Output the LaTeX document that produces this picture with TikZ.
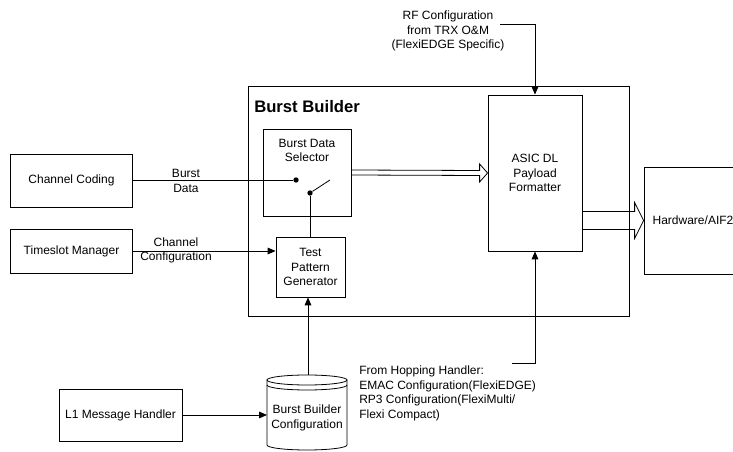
\documentclass[tikz,border=0pt]{standalone}
\usepackage{fontspec}
\setmainfont{Liberation Sans}
\usetikzlibrary{arrows.meta,calc,positioning}
\newcommand{\lblfont}{\fontsize{9}{10.8}\selectfont}
\newcommand{\titlefont}{\fontsize{12.5}{14}\selectfont\bfseries}

\begin{document}
\begin{tikzpicture}[
    x=0.75pt, y=-0.75pt,
    >={Triangle[length=6pt, width=5pt]},
    blk/.style={draw, line width=0.6pt, align=center, font=\lblfont, inner sep=2pt},
    lbl/.style={align=center, font=\lblfont, inner sep=0pt},
    wire/.style={line width=0.6pt},
    dot/.style={circle, fill, inner sep=0pt, minimum size=4pt}
]

% Page
\useasboundingbox (0,0) rectangle (733,452);
\fill[white] (0,0) rectangle (733,452);

% Outer block
\node[blk, minimum width=285.75pt, minimum height=172.5pt] (bb) at (438.5,201) {};
\node[font=\titlefont, anchor=west, inner sep=0pt] (bbtitle) at (254,107) {Burst Builder};

% Sources on the left
\node[blk, minimum width=91.5pt, minimum height=39.75pt] (cc) at (71.5,180.5) {Channel Coding};
\node[blk, minimum width=91.5pt, minimum height=33pt] (tsm) at (71.5,251) {Timeslot Manager};
\node[blk, minimum width=92.25pt, minimum height=39pt] (l1) at (120.5,415) {L1 Message Handler};

% Inner blocks
\node[blk, minimum width=66pt, minimum height=65.25pt] (bds) at (307,172.5) {};
\node[lbl] (bdstext) at (307,150.5) {Burst Data\\Selector};
\node[blk, minimum width=51.75pt, minimum height=45pt] (tpg) at (310.5,267) {Test\\Pattern\\Generator};
\node[blk, minimum width=70.5pt, minimum height=117pt] (asic) at (535,173) {ASIC DL\\Payload\\Formatter};

% Hardware (runs off the page)
\node[blk, minimum width=73.5pt, minimum height=80.25pt] (hw) at (693,220.5) {Hardware/AIF2};

% Configuration store
\draw[wire] (267,380) -- (267,445) arc[start angle=180, end angle=360, x radius=30pt, y radius=3.75pt] -- (347,380);
\draw[wire] (307,380) ellipse[x radius=30pt, y radius=3.75pt];
\draw[wire] (267,385) arc[start angle=180, end angle=360, x radius=30pt, y radius=3.75pt];
\node[lbl] (bbconf) at (307,418) {Burst Builder\\Configuration};
\coordinate (cylW) at (267,415);
\coordinate (cylN) at (308,375);

% Switch inside the selector
\node[dot] (dot1) at (296,180) {};
\node[dot] (dot2) at (310,193) {};
\coordinate (swend) at (330,180);
\draw[wire] (cc.east |- dot1) -- (dot1);
\draw[wire] (dot2) -- (swend);
\draw[wire] (dot2) -- (dot2 |- tpg.north);
\node[lbl] (bdlbl) at (186,181) {Burst\\Data};

% Channel configuration
\draw[wire, ->] (tsm.east) -- (tpg.west |- tsm.east);
\node[lbl] (cfglbl) at (176,250.5) {Channel\\Configuration};

% Configuration into generator
\draw[wire, ->] (l1.east) -- (cylW);
\draw[wire, ->] (cylN) -- (cylN |- tpg.south);

% Burst data to formatter (double arrow)
\draw[wire] ($(bds.east)+(0,-2.5)$) -- ($(asic.west)+(-8,-2.5)$) -- ++(0,-6.5) -- (asic.west)
    -- ++(-8,9) -- ++(0,-6.5) -- ($(bds.east)+(0,2.5)$);

% Formatter to hardware (wide arrow)
\coordinate (bigS) at (asic.east |- hw.west);
\draw[wire] ($(bigS)+(0,-9)$) -- ($(hw.west)+(-9,-9)$) -- ++(0,-9) -- (hw.west)
    -- ++(-9,18) -- ++(0,-9) -- ($(bigS)+(0,9)$);

% RF configuration
\node[lbl] (rf) at (448,31) {RF Configuration\\from TRX O\&M\\(FlexiEDGE Specific)};
\coordinate (rfend) at (500,24);
\draw[wire, ->] (rfend) -| (asic.north);

% Hopping handler
\node[lbl, align=left, anchor=north west] (hop) at (359,366) {From Hopping Handler:\\EMAC Configuration(FlexiEDGE)\\RP3 Configuration(FlexiMulti/\\Flexi Compact)};
\coordinate (hopend) at (512,363);
\draw[wire, ->] (hopend) -| (asic.south);

\end{tikzpicture}
\end{document}
